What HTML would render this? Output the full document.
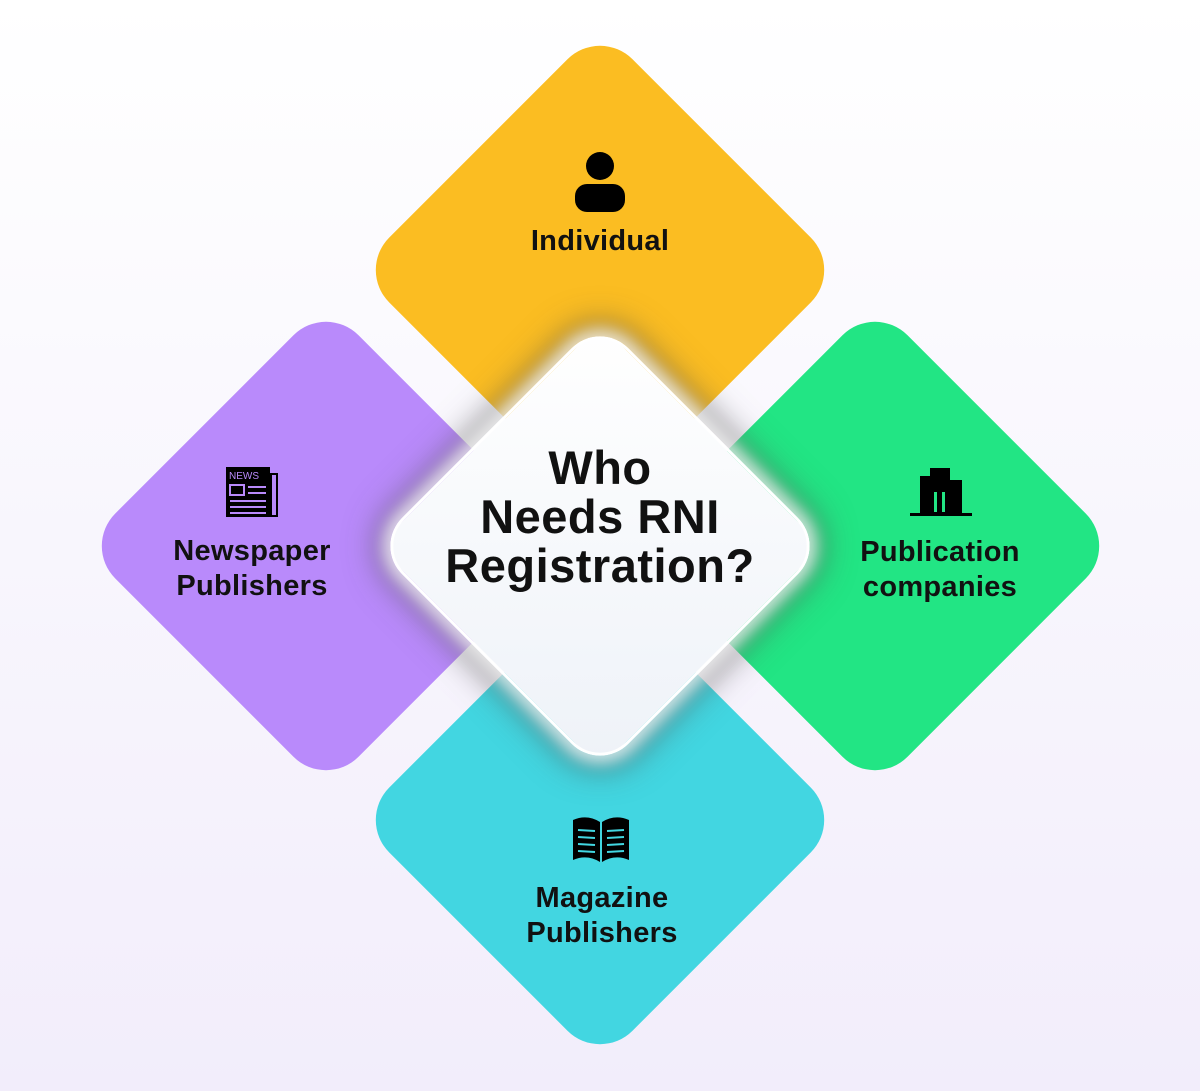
<!DOCTYPE html>
<html><head><meta charset="utf-8">
<style>
html,body{margin:0;padding:0}
body{width:1200px;height:1091px;position:relative;overflow:hidden;
background:linear-gradient(180deg,#ffffff 0%,#f8f6fd 50%,#f2edfb 100%);
font-family:"Liberation Sans",sans-serif;}
.d{position:absolute;width:344px;height:344px;border-radius:46px;transform:rotate(45deg);}
.t{position:absolute;font-weight:bold;color:#111;text-align:center;font-size:29px;line-height:35px;letter-spacing:0.3px}
.ic{position:absolute}
</style></head><body>
<div class="d" style="left:428px;top:98px;background:#fbbd22"></div>
<div class="d" style="left:154px;top:374px;background:#b98afb"></div>
<div class="d" style="left:703px;top:374px;background:#22e584"></div>
<div class="d" style="left:428px;top:648px;background:#42d6e1"></div>
<div class="d" style="left:440px;top:386px;width:320px;height:320px;border-radius:40px;background:linear-gradient(135deg,#ffffff,#eef2f8);box-shadow:0 0 14px 8px rgba(255,255,255,0.7),0 0 30px 16px rgba(80,80,80,0.5);border:3px solid #fff;box-sizing:border-box"></div>

<svg class="ic" style="left:572px;top:150px" width="56" height="64" viewBox="0 0 56 64">
<circle cx="28" cy="16" r="14" fill="#000"/><rect x="3" y="34" width="50" height="28" rx="12" fill="#000"/></svg>
<div class="t" style="left:450px;top:224px;width:300px">Individual</div>

<svg class="ic" style="left:224px;top:465px" width="56" height="54" viewBox="0 0 56 54">
<rect x="2" y="2" width="44" height="50" fill="#000"/><rect x="46" y="8" width="8" height="44" fill="#000"/>
<rect x="48" y="10" width="4" height="40" fill="#b98afb"/>
<text x="5" y="14" font-size="10" fill="#b98afb" font-family="Liberation Sans">NEWS</text>
<rect x="6" y="20" width="14" height="10" fill="none" stroke="#b98afb" stroke-width="2"/>
<rect x="24" y="21" width="18" height="2" fill="#b98afb"/><rect x="24" y="27" width="18" height="2" fill="#b98afb"/>
<rect x="6" y="35" width="36" height="2" fill="#b98afb"/><rect x="6" y="41" width="36" height="2" fill="#b98afb"/><rect x="6" y="47" width="36" height="2" fill="#b98afb"/></svg>
<div class="t" style="left:120px;top:534px;width:264px">Newspaper<br>Publishers</div>

<svg class="ic" style="left:910px;top:466px" width="62" height="52" viewBox="0 0 62 52">
<rect x="10" y="10" width="10" height="38" fill="#000"/><rect x="20" y="2" width="20" height="46" fill="#000"/><rect x="40" y="14" width="12" height="34" fill="#000"/>
<rect x="24" y="26" width="3" height="20" fill="#22e584"/><rect x="32" y="26" width="3" height="20" fill="#22e584"/>
<rect x="0" y="47" width="62" height="3" fill="#000"/></svg>
<div class="t" style="left:808px;top:535px;width:264px">Publication<br>companies</div>

<svg class="ic" style="left:571px;top:814px" width="60" height="50" viewBox="0 0 60 50">
<path d="M2 6 Q16 0 29 8 L29 48 Q16 40 2 46Z" fill="#000"/><path d="M58 6 Q44 0 31 8 L31 48 Q44 40 58 46Z" fill="#000"/>
<g stroke="#42d6e1" stroke-width="2"><line x1="7" y1="16" x2="24" y2="17"/><line x1="7" y1="23" x2="24" y2="24"/><line x1="7" y1="30" x2="24" y2="31"/><line x1="7" y1="37" x2="24" y2="38"/>
<line x1="36" y1="17" x2="53" y2="16"/><line x1="36" y1="24" x2="53" y2="23"/><line x1="36" y1="31" x2="53" y2="30"/><line x1="36" y1="38" x2="53" y2="37"/></g></svg>
<div class="t" style="left:470px;top:881px;width:264px">Magazine<br>Publishers</div>

<div class="t" style="left:380px;top:443px;width:440px;font-size:47px;line-height:49px;letter-spacing:0.5px">Who<br>Needs RNI<br>Registration?</div>
</body></html>
